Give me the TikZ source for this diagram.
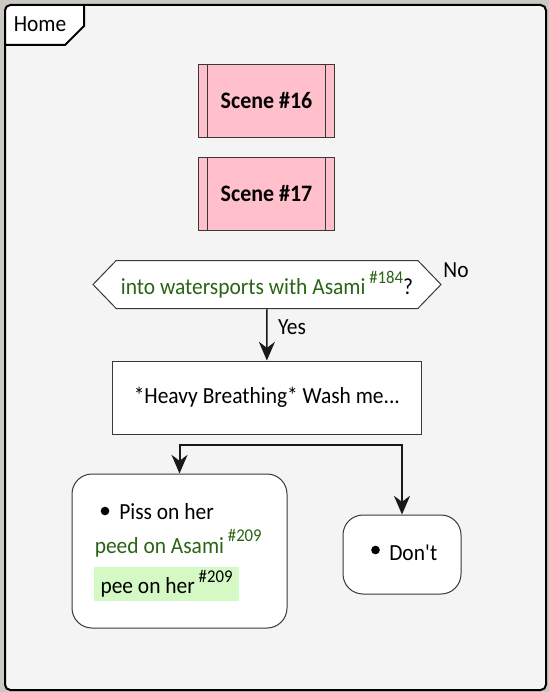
\documentclass[tikz,border=0pt]{standalone}
\usepackage{fontspec}
\setmainfont{Carlito}[FakeStretch=0.93]
\usepackage{tikz}
\usetikzlibrary{arrows.meta,shapes.symbols}

\definecolor{outside}{RGB}{204,200,195}
\definecolor{framebg}{RGB}{244,244,244}
\definecolor{boxline}{RGB}{56,56,56}
\definecolor{scenepink}{RGB}{255,192,203}
\definecolor{textgreen}{RGB}{42,100,20}
\definecolor{hilite}{RGB}{212,249,196}

\newcommand\issueref[1]{\,\raisebox{0.5em}{\fontsize{13.5}{15}\selectfont\##1}}

\begin{document}
\begin{tikzpicture}[x=0.75pt,y=-0.75pt,
    every node/.style={font=\fontsize{17.3}{20}\selectfont},
    scenebox/.style={draw=boxline, line width=0.75pt, fill=scenepink,
        minimum width=102.4pt, minimum height=54.75pt,
        font=\fontsize{17.7}{20}\selectfont\bfseries},
    actbox/.style={draw=boxline, line width=0.75pt, fill=white,
        minimum width=231.75pt, minimum height=54.75pt},
    choicebox/.style={draw=boxline, line width=0.75pt, fill=white,
        rounded corners=15pt},
    dot/.style={circle, fill=black, minimum size=6.5pt, inner sep=0pt},
    flow/.style={draw=black!90, line width=1.1pt,
        -{Stealth[length=14pt, width=12pt, inset=4.5pt]}}]

    % Page and frame
    \fill[outside] (0,0) rectangle (549,692);
    \fill[framebg, rounded corners=4pt] (5,5) rectangle (546,690);
    \fill[white, rounded corners=4pt] (5,45) |- (84,5) -- (84,26) -- (65,45) -- cycle;
    \draw[line width=1.5pt, rounded corners=4pt] (5,5) rectangle (546,690);
    \draw[line width=1.5pt] (84,5) -- (84,26) -- (65,45) -- (5,45);
    \node (home) at (40,24) {Home};

    % Scenes
    \node[scenebox] (s16) at (266.5,101) {Scene \#16};
    \node[scenebox] (s17) at (266.5,194) {Scene \#17};
    \foreach \s in {s16,s17} {
        \draw[boxline, line width=0.75pt] ([xshift=7.5pt]\s.north west) -- ([xshift=7.5pt]\s.south west);
        \draw[boxline, line width=0.75pt] ([xshift=-7.5pt]\s.north east) -- ([xshift=-7.5pt]\s.south east);
    }

    % Question
    \node[signal, signal to=west and east, signal pointer angle=92,
        draw=boxline, line width=0.75pt, fill=white,
        minimum width=261pt, minimum height=36pt, inner sep=0pt] (ask) at (267,284.5)
        {\textcolor{textgreen}{into watersports with Asami\issueref{184}}?};
    \node (no) at (456,270) {No};
    \node (yes) at (292,327) {Yes};

    \node[actbox] (wash) at (266.8,397.5) {*Heavy Breathing* Wash me...};
    \draw[flow] (ask) -- (wash);

    % Choices
    \node[choicebox, minimum width=161.25pt, minimum height=115.5pt] (piss) at (179.5,551) {};
    \node[choicebox, minimum width=88.5pt, minimum height=59.25pt] (dont) at (402,554.5) {};

    \coordinate (forkL) at (179.5,445);
    \coordinate (forkR) at (402,445);
    \draw[black!90, line width=1.5pt, line cap=rect] (forkL) -- (forkR);
    \draw[flow, line width=1.5pt] (forkL) -- (piss);
    \draw[flow, line width=1.5pt] (forkR) -- (dont);

    \node[dot] (dot1) at (105,511) {};
    \node[anchor=base west, inner sep=0pt] (pisstext) at (119,519) {Piss on her};
    \node[anchor=base west, text=textgreen, inner sep=0pt] (peed) at (94.5,553) {peed on Asami\issueref{209}};
    \node[fill=hilite, minimum width=108.75pt, minimum height=25.5pt, inner sep=0pt] (pee) at (166.5,584)
        {pee on her\issueref{209}};

    \node[dot] (dot2) at (375.5,550) {};
    \node[anchor=base west, inner sep=0pt] (donttext) at (389,560) {Don\textquotesingle t};

\end{tikzpicture}
\end{document}
